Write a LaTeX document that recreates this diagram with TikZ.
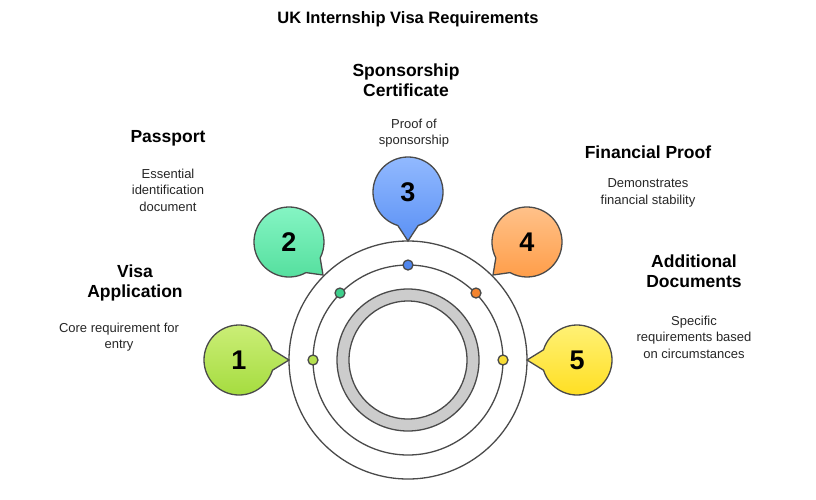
\documentclass[tikz,border=0pt]{standalone}
\usepackage{fontspec}
\setmainfont{Liberation Sans}
\definecolor{lineg}{HTML}{4A4A4A}
\definecolor{oneT}{HTML}{CDEF7A}\definecolor{oneB}{HTML}{A3DB3C}\definecolor{oneD}{HTML}{B5E04F}
\definecolor{twoT}{HTML}{88F6C6}\definecolor{twoB}{HTML}{52DE9C}\definecolor{twoD}{HTML}{3ECF8C}
\definecolor{threeT}{HTML}{94BBFF}\definecolor{threeB}{HTML}{5B91F5}\definecolor{threeD}{HTML}{4F86EE}
\definecolor{fourT}{HTML}{FFC48E}\definecolor{fourB}{HTML}{FF9D48}\definecolor{fourD}{HTML}{F3842F}
\definecolor{fiveT}{HTML}{FFF27A}\definecolor{fiveB}{HTML}{FFDE1E}\definecolor{fiveD}{HTML}{F7DC35}
\tikzset{
    heading/.style={font=\fontsize{17.5}{20}\selectfont\bfseries, align=center},
    body/.style={font=\fontsize{13}{16.5}\selectfont, align=center, text=black!85},
    number/.style={font=\fontsize{27}{29}\selectfont\bfseries},
    dot/.style={circle, draw=lineg, line width=1.3pt, minimum size=10pt, inner sep=0pt},
}
% speech bubble: centre, direction, top colour, bottom colour, tip, number
\newcommand{\bubble}[6]{
    \draw [line width=1.3pt, draw=lineg, top color=#3, bottom color=#4]
        (#1) ++(#2+17:35) arc [start angle=#2+17, end angle=#2+343, radius=35]
        -- (#5) -- cycle;
    \node [number] at (#1) {#6};
}
\begin{document}
\begin{tikzpicture}[x=1pt, y=-1pt]
    \useasboundingbox (0,0) rectangle (816,499);
    \node [font=\fontsize{16.5}{18}\selectfont\bfseries] (title) at (408,19) {UK Internship Visa Requirements};

    % rings
    \coordinate (C) at (408,360);
    \draw [lineg, line width=1.3pt] (C) circle [radius=119];
    \draw [lineg, line width=1.3pt] (C) circle [radius=95];
    \draw [lineg, line width=1.3pt, fill=black!20, even odd rule]
        (C) circle [radius=71] (C) circle [radius=59];

    % tips on the outer ring
    \coordinate (t1) at (289,360);
    \coordinate (t2) at (323,275);
    \coordinate (t3) at (408,241);
    \coordinate (t4) at (493,275);
    \coordinate (t5) at (527,360);

    % bubbles
    \coordinate (b1) at (239,360);
    \coordinate (b2) at (289,242);
    \coordinate (b3) at (408,192);
    \coordinate (b4) at (527,242);
    \coordinate (b5) at (577,360);
    \bubble{b1}{0}{oneT}{oneB}{t1}{1}
    \bubble{b2}{44}{twoT}{twoB}{t2}{2}
    \bubble{b3}{90}{threeT}{threeB}{t3}{3}
    \bubble{b4}{136}{fourT}{fourB}{t4}{4}
    \bubble{b5}{180}{fiveT}{fiveB}{t5}{5}

    % dots on the middle ring
    \node [dot, fill=oneD] (d1) at (313,360) {};
    \node [dot, fill=twoD] (d2) at (340,293) {};
    \node [dot, fill=threeD] (d3) at (408,265) {};
    \node [dot, fill=fourD] (d4) at (476,293) {};
    \node [dot, fill=fiveD] (d5) at (503,360) {};

    % labels
    \node [heading] (h1) at (135,283) {Visa\\Application};
    \node [body] (s1) at (119,337) {Core requirement for\\entry};
    \node [heading] (h2) at (168,138) {Passport};
    \node [body] (s2) at (168,190) {Essential\\identification\\document};
    \node [heading] (h3) at (406,80) {Sponsorship\\Certificate};
    \node [body] (s3) at (414,133) {Proof of\\sponsorship};
    \node [heading] (h4) at (648,152) {Financial Proof};
    \node [body] (s4) at (648,193) {Demonstrates\\financial stability};
    \node [heading] (h5) at (694,271) {Additional\\Documents};
    \node [body] (s5) at (694,337) {Specific\\requirements based\\on circumstances};
\end{tikzpicture}
\end{document}
